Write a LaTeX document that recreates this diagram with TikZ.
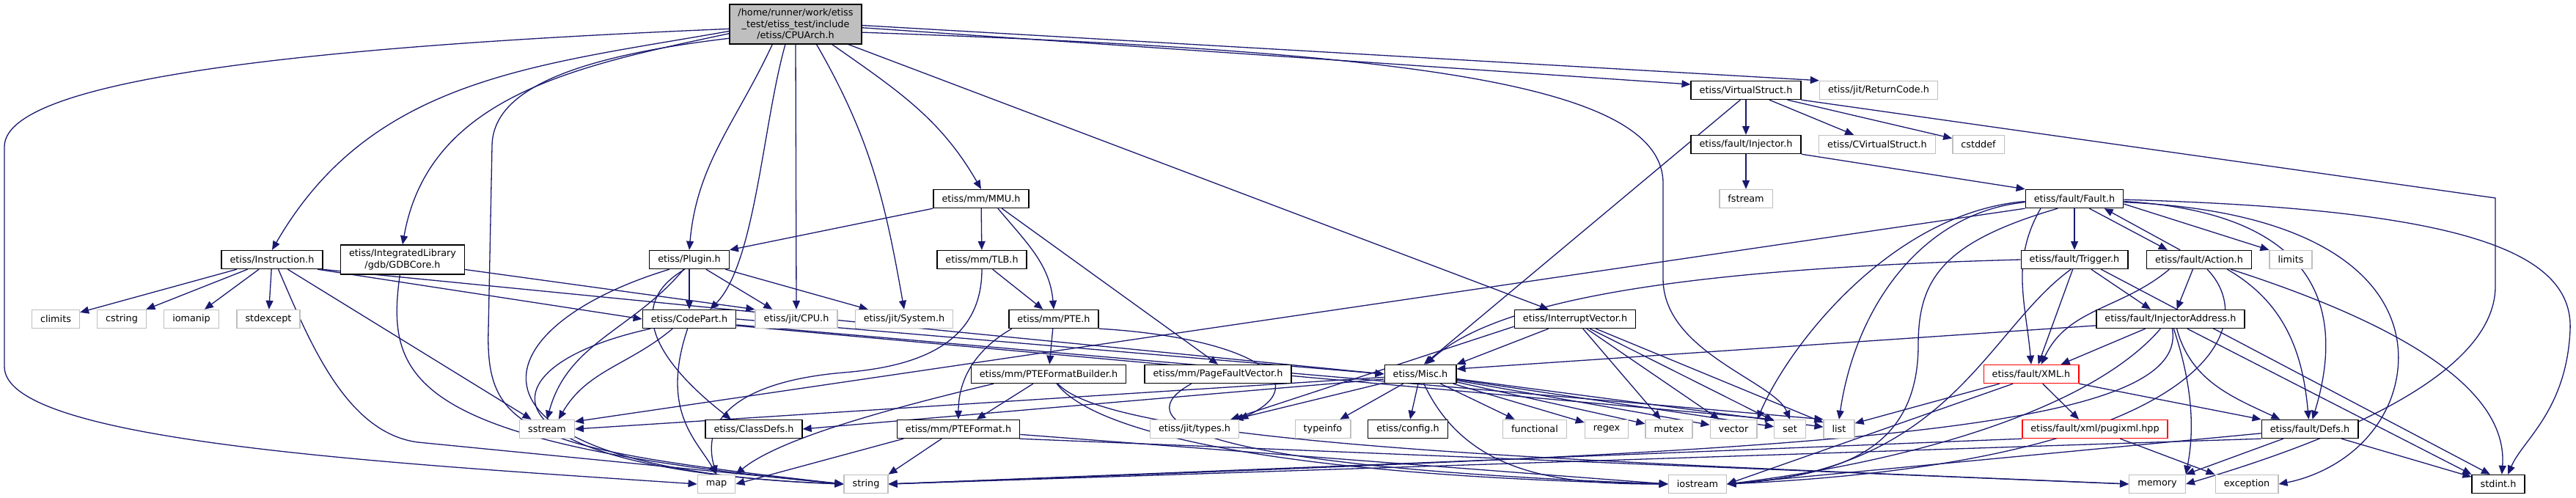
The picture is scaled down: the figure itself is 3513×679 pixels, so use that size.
\documentclass[tikz,border=0pt]{standalone}
\usepackage{fontspec}
\setmainfont{DejaVu Sans}
\usetikzlibrary{arrows.meta, backgrounds}
\definecolor{edgeblue}{RGB}{25, 25, 112}
\definecolor{greyframe}{RGB}{191, 191, 191}
\tikzstyle{header}   = [rectangle, draw=black, fill=white, line width=1.4pt,
                        minimum height=25pt, inner xsep=11.5pt, inner ysep=2pt,
                        font=\fontsize{12.8}{15.4}\selectfont]
\tikzstyle{syshdr}   = [header, draw=greyframe]
\tikzstyle{trunc}    = [header, draw=red]
\tikzstyle{rootfile} = [header, fill=greyframe, align=center, inner ysep=6pt]
\tikzstyle{arrow}    = [-{Triangle[length=12pt, width=10pt]}, draw=edgeblue, line width=1.3pt]

\begin{document}
\begin{tikzpicture}[x=1pt, y=-1pt]
  \useasboundingbox (0,0) rectangle (3513,679);

  \node (root)      [rootfile] at (1085,33)  {/home/runner/work/etiss\\\_test/etiss\_test/include\\/etiss/CPUArch.h};

  \node (vstruct)   [header] at (2381,123) {etiss/VirtualStruct.h};
  \node (retcode)   [syshdr] at (2562,123) {etiss/jit/ReturnCode.h};

  \node (injector)  [header] at (2381,197) {etiss/fault/Injector.h};
  \node (cvstruct)  [syshdr] at (2560,197) {etiss/CVirtualStruct.h};
  \node (cstddef)   [syshdr] at (2698,197) {cstddef};

  \node (mmu)       [header] at (1338,271) {etiss/mm/MMU.h};
  \node (fstream)   [syshdr] at (2381,271) {fstream};
  \node (fault)     [header] at (2829,271) {etiss/fault/Fault.h};

  \node (instr)     [header] at (371,354)  {etiss/Instruction.h};
  \node (gdbcore)   [header, align=center, inner ysep=6pt] at (549,354) {etiss/IntegratedLibrary\\/gdb/GDBCore.h};
  \node (plugin)    [header] at (940,354)  {etiss/Plugin.h};
  \node (tlb)       [header] at (1339,354) {etiss/mm/TLB.h};
  \node (trigger)   [header] at (2829,354) {etiss/fault/Trigger.h};
  \node (action)    [header] at (2999,354) {etiss/fault/Action.h};
  \node (limits)    [syshdr] at (3124,354) {limits};

  \node (climits)   [syshdr] at (76,435)   {climits};
  \node (cstring)   [syshdr] at (166,435)  {cstring};
  \node (iomanip)   [syshdr] at (261,435)  {iomanip};
  \node (stdexcept) [syshdr] at (366,435)  {stdexcept};
  \node (codepart)  [header] at (940,435)  {etiss/CodePart.h};
  \node (jitcpu)    [syshdr] at (1086,435) {etiss/jit/CPU.h};
  \node (jitsystem) [syshdr] at (1233,435) {etiss/jit/System.h};
  \node (pte)       [header] at (1437,435) {etiss/mm/PTE.h};
  \node (intvec)    [header] at (2148,435) {etiss/InterruptVector.h};
  \node (injaddr)   [header] at (2960,435) {etiss/fault/InjectorAddress.h};

  \node (ptefb)     [header] at (1430,510) {etiss/mm/PTEFormatBuilder.h};
  \node (pagefault) [header] at (1661,510) {etiss/mm/PageFaultVector.h};
  \node (misc)      [header] at (1937,510) {etiss/Misc.h};
  \node (xml)       [trunc]  at (2770,510) {etiss/fault/XML.h};

  \node (sstream)   [syshdr] at (746,585)  {sstream};
  \node (classdefs) [header] at (1028,585) {etiss/ClassDefs.h};
  \node (pteformat) [header] at (1307,585) {etiss/mm/PTEFormat.h};
  \node (jittypes)  [syshdr] at (1629,585) {etiss/jit/types.h};
  \node (typeinfo)  [syshdr] at (1804,585) {typeinfo};
  \node (config)    [header] at (1920,585) {etiss/config.h};
  \node (functional)[syshdr] at (2093,585) {functional};
  \node (regex)     [syshdr] at (2191,585) {regex};
  \node (mutex)     [syshdr] at (2276,585) {mutex};
  \node (vector)    [syshdr] at (2364,585) {vector};
  \node (set)       [syshdr] at (2441,585) {set};
  \node (list)      [syshdr] at (2508,585) {list};
  \node (pugixml)   [trunc]  at (2857,585) {etiss/fault/xml/pugixml.hpp};
  \node (defs)      [header] at (3150,585) {etiss/fault/Defs.h};

  \node (map)       [syshdr] at (977,660)  {map};
  \node (string)    [syshdr] at (1181,660) {string};
  \node (iostream)  [syshdr] at (2315,660) {iostream};
  \node (memory)    [syshdr] at (2942,660) {memory};
  \node (exception) [syshdr] at (3064,660) {exception};
  \node (stdint)    [header] at (3407,660) {stdint.h};

  \begin{scope}[on background layer]
  % CPUArch.h
  \draw [arrow] (root.-176) .. controls (500,60) and (6,100) .. (6,200) -- (6,500) .. controls (6,600) and (500,630) .. (map.west);
  \draw [arrow] (root.-174) to[out=190, in=60] (instr.north);
  \draw [arrow] (root.-172) to[out=192, in=80] (gdbcore.north);
  \draw [arrow] (root.-168) .. controls (760,80) and (671,130) .. (671,200) -- (666,450) .. controls (662,590) and (720,612) .. (string.west);
  \draw [arrow] (root.-139) to[out=-115, in=85] (plugin.north);
  \draw [arrow] (root.-117) .. controls (1040,170) and (1030,360) .. (codepart.25);
  \draw [arrow] (root.south) -- (jitcpu.north);
  \draw [arrow] (root.-44) to[out=-60, in=100] (jitsystem.north);
  \draw [arrow] (root.-29) to[out=-35, in=120] (mmu.north);
  \draw [arrow] (root.-21) -- (intvec.160);
  \draw [arrow] (root.-3) -- (vstruct.174);
  \draw [arrow] (root.-1) -- (retcode.north west);
  \draw [arrow] (root.-7) .. controls (1900,70) and (2268,110) .. (2268,250) -- (2268,380) .. controls (2268,480) and (2420,520) .. (set.north);

  % VirtualStruct.h, Injector.h
  \draw [arrow] (vstruct) -- (injector);
  \draw [arrow] (vstruct) -- (cvstruct);
  \draw [arrow] (vstruct) -- (cstddef);
  \draw [arrow] (vstruct.-120) -- (misc.70);
  \draw [arrow] (vstruct.south east) -- (3403,270) -- (3403,390) .. controls (3403,520) and (3150,610) .. (memory.east);
  \draw [arrow] (injector) -- (fstream);
  \draw [arrow] (injector.south east) -- (fault.north west);

  % MMU.h, TLB.h, PTE.h
  \draw [arrow] (mmu.south west) -- (plugin.north east);
  \draw [arrow] (mmu) -- (tlb);
  \draw [arrow] (mmu.-30) to[out=-50, in=95] (pte.north);
  \draw [arrow] (mmu.-25) -- (pagefault.north);
  \draw [arrow] (tlb.-42) -- (pte.138);
  \draw [arrow] (tlb.south) .. controls (1339,470) and (1250,500) .. (1150,508) .. controls (1010,520) and (955,570) .. (map.north);
  \draw [arrow] (pte) -- (ptefb);
  \draw [arrow] (pte.-167) to[out=-150, in=90] (pteformat.north);
  \draw [arrow] (pte.-12) .. controls (1700,460) and (1800,520) .. (jittypes.north east);
  \draw [arrow] (ptefb.-148) -- (pteformat.28);
  \draw [arrow] (ptefb.-170) .. controls (1200,560) and (1060,600) .. (map.north east);
  \draw [arrow] (ptefb.-50) .. controls (1500,600) and (1800,650) .. (iostream.west);
  \draw [arrow] (ptefb.-46) .. controls (1520,610) and (2200,630) .. (memory.west);
  \draw [arrow] (pteformat.-150) -- (string.north east);
  \draw [arrow] (pteformat.-170) -- (map.east);
  \draw [arrow] (pteformat.-5) -- (iostream.west);
  \draw [arrow] (pteformat.-9) -- (memory.west);
  \draw [arrow] (pagefault.-160) .. controls (1540,570) and (1600,635) .. (iostream.west);

  % Instruction.h, GDBCore.h
  \draw [arrow] (instr) -- (climits);
  \draw [arrow] (instr) -- (cstring);
  \draw [arrow] (instr) -- (iomanip);
  \draw [arrow] (instr) -- (stdexcept);
  \draw [arrow] (instr) -- (sstream);
  \draw [arrow] (instr.-12) -- (codepart.west);
  \draw [arrow] (instr.-11) -- (misc.west);
  \draw [arrow] (instr.-57) .. controls (420,460) and (470,590) .. (570,603) -- (string.west);
  \draw [arrow] (gdbcore.-9) -- (jitcpu.north west);
  \draw [arrow] (gdbcore.-100) .. controls (525,520) and (560,605) .. (string.west);

  % Plugin.h, CodePart.h
  \draw [arrow] (plugin) -- (codepart);
  \draw [arrow] (plugin.-30) -- (jitcpu.158);
  \draw [arrow] (plugin.-15) -- (jitsystem.165);
  \draw [arrow] (plugin.-120) to[out=-130, in=75] (sstream.north);
  \draw [arrow] (plugin.-115) .. controls (860,410) and (880,480) .. (classdefs.157);
  \draw [arrow] (plugin.-154) .. controls (640,450) and (600,640) .. (string.west);
  \draw [arrow] (codepart.-150) to[out=-140, in=60] (sstream.40);
  \draw [arrow] (codepart.-166) .. controls (650,500) and (640,640) .. (string.west);
  \draw [arrow] (codepart.-100) .. controls (900,560) and (950,600) .. (map.north);
  \draw [arrow] (codepart.east) -- (misc.west);
  \draw [arrow] (codepart.-8) -- (set.north west);
  \draw [arrow] (codepart.-7) -- (list.north west);

  % Misc.h, InterruptVector.h
  \draw [arrow] (misc.-175) -- (sstream.east);
  \draw [arrow] (misc.-172) -- (classdefs.east);
  \draw [arrow] (misc) -- (jittypes);
  \draw [arrow] (misc) -- (typeinfo);
  \draw [arrow] (misc) -- (config);
  \draw [arrow] (misc) -- (functional);
  \draw [arrow] (misc) -- (regex);
  \draw [arrow] (misc) -- (mutex);
  \draw [arrow] (misc) -- (vector);
  \draw [arrow] (misc) -- (set);
  \draw [arrow] (misc) -- (list);
  \draw [arrow] (misc.-70) to[out=-65, in=180] (iostream.west);
  \draw [arrow] (intvec.-160) -- (misc.north east);
  \draw [arrow] (intvec.-173) -- (jittypes.15);
  \draw [arrow] (intvec.-51) -- (mutex);
  \draw [arrow] (intvec.-40) -- (vector);
  \draw [arrow] (intvec.-33) -- (set);
  \draw [arrow] (intvec.-25) -- (list);

  % Fault.h
  \draw [arrow] (fault) -- (trigger);
  \draw [arrow] (fault.-33) -- (action.163);
  \draw [arrow] (action.153) -- (fault.-18);
  \draw [arrow] (fault.-6) -- (limits.north west);
  \draw [arrow] (fault.-164) to[out=-120, in=95] (xml.north);
  \draw [arrow] (fault.-3) .. controls (3160,290) and (3200,420) .. (defs.75);
  \draw [arrow] (fault.-4) .. controls (3240,290) and (3300,440) .. (3260,545) .. controls (3230,620) and (3160,650) .. (exception.east);
  \draw [arrow] (fault.-1) .. controls (3350,285) and (3510,340) .. (3505,450) .. controls (3500,560) and (3440,600) .. (stdint.45);
  \draw [arrow] (fault.-176) .. controls (2620,290) and (2530,420) .. (list.north);
  \draw [arrow] (fault.-177) .. controls (2580,290) and (2440,470) .. (vector.north east);
  \draw [arrow] (fault.south west) -- (sstream.15);
  \draw [arrow] (fault.-150) .. controls (2650,330) and (2616,380) .. (2616,470) .. controls (2616,620) and (2500,648) .. (iostream.east);

  % Trigger.h, Action.h
  \draw [arrow] (trigger.-100) -- (xml.54);
  \draw [arrow] (trigger.-30) -- (injaddr.154);
  \draw [arrow] (trigger.west) .. controls (2350,365) and (2050,400) .. (misc.60);
  \draw [arrow] (trigger.-110) .. controls (2710,450) and (2660,640) .. (iostream.east);
  \draw [arrow] (trigger.-20) -- (stdint.130);
  \draw [arrow] (action.-123) -- (injaddr.57);
  \draw [arrow] (action.-162) to[out=-140, in=65] (xml.44);
  \draw [arrow] (action.-19) to[out=-30, in=95] (defs.97);
  \draw [arrow] (action.-17) .. controls (3300,450) and (3420,540) .. (stdint.70);
  \draw [arrow] (action.-50) .. controls (3090,450) and (3000,630) .. (iostream.east);

  % InjectorAddress.h, XML.h, pugixml.hpp, Defs.h
  \draw [arrow] (injaddr.-159) -- (xml.18);
  \draw [arrow] (injaddr.-175) -- (misc.8);
  \draw [arrow] (injaddr.-57) to[out=-75, in=155] (defs.162);
  \draw [arrow] (injaddr.-30) -- (stdint.north west);
  \draw [arrow] (injaddr.-136) .. controls (2850,560) and (2600,630) .. (iostream.east);
  \draw [arrow] (injaddr.-72) .. controls (2995,540) and (2990,600) .. (memory.north east);
  \draw [arrow] (injaddr.-80) .. controls (2990,600) and (2400,615) .. (string.east);
  \draw [arrow] (xml.-163) -- (list.20);
  \draw [arrow] (xml.-152) -- (iostream.east);
  \draw [arrow] (xml.-40) -- (pugixml.149);
  \draw [arrow] (xml.south east) -- (defs.north west);
  \draw [arrow] (pugixml.-21) -- (exception.north west);
  \draw [arrow] (pugixml.south west) -- (string.east);
  \draw [arrow] (defs.-160) -- (memory.north east);
  \draw [arrow] (defs.-17) -- (stdint.165);
  \draw [arrow] (defs.south west) -- (string.east);
  \draw [arrow] (defs.-175) -- (iostream.east);
  \end{scope}
\end{tikzpicture}
\end{document}
